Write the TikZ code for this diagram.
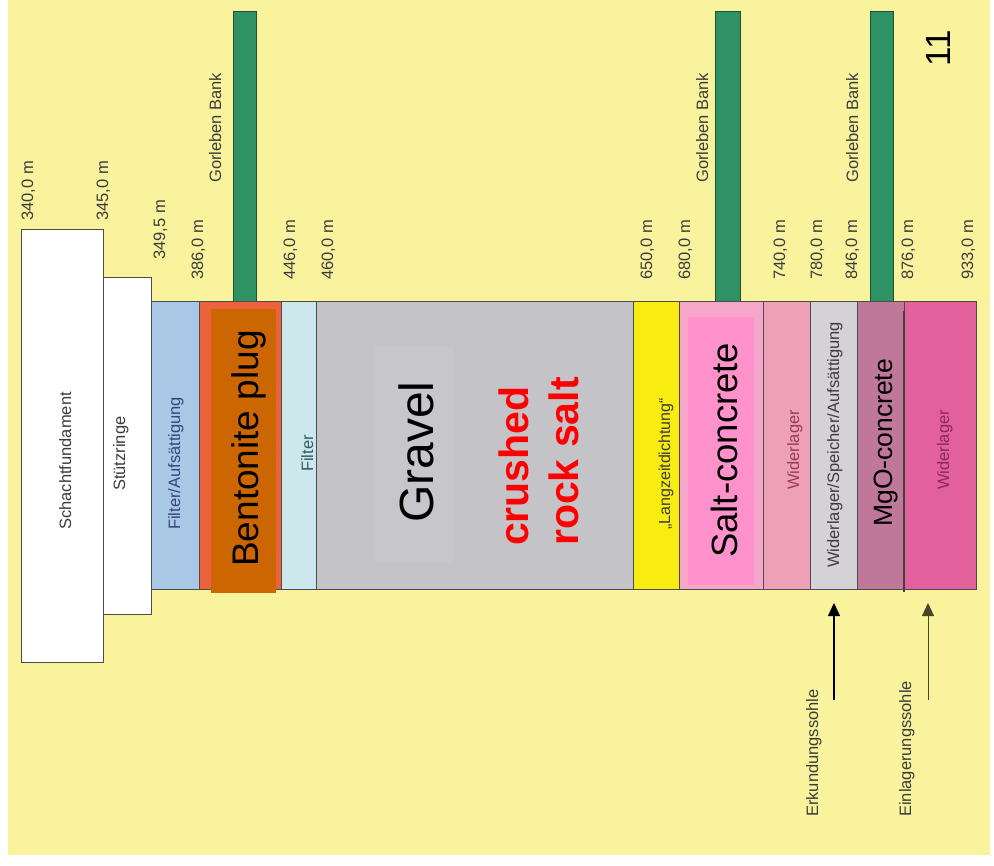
\documentclass[tikz,border=0pt]{standalone}
\usepackage{fontspec}
\setmainfont{Liberation Sans}
\usetikzlibrary{arrows.meta}
\definecolor{bgyellow}{RGB}{250,243,158}
\definecolor{filterblue}{RGB}{168,200,230}
\definecolor{bentred}{RGB}{236,98,60}
\definecolor{bentorange}{RGB}{204,102,0}
\definecolor{filtercyan}{RGB}{204,232,236}
\definecolor{gravelgrey}{RGB}{196,195,200}
\definecolor{gravelinner}{RGB}{199,198,202}
\definecolor{langyellow}{RGB}{248,236,16}
\definecolor{saltouter}{RGB}{246,166,202}
\definecolor{saltinner}{RGB}{255,146,202}
\definecolor{widerA}{RGB}{238,160,184}
\definecolor{wsagrey}{RGB}{212,210,214}
\definecolor{mgocol}{RGB}{192,120,154}
\definecolor{widerB}{RGB}{226,96,156}
\definecolor{bankgreen}{RGB}{46,146,100}
\definecolor{bankedge}{RGB}{30,80,50}
\definecolor{lbltext}{RGB}{60,60,60}
\definecolor{filtxt}{RGB}{50,70,120}
\definecolor{filtxtb}{RGB}{50,90,100}
\definecolor{widtxta}{RGB}{150,60,90}
\definecolor{widtxtb}{RGB}{140,40,90}
\definecolor{olivearrow}{RGB}{70,70,40}
\begin{document}
\begin{tikzpicture}[x=1pt,y=-1pt,
  layer/.style={draw=black!70, line width=0.6pt},
  bank/.style={draw=bankedge, line width=0.6pt, fill=bankgreen},
  small/.style={rotate=90, anchor=base west, inner sep=0pt, text=lbltext, font=\fontsize{16.5}{18}\selectfont},
  big/.style={rotate=90, anchor=base west, inner sep=0pt, text=black},
  arr/.style={-{Triangle[length=13pt,width=12pt]}, line width=1.3pt}
]
% background
\fill[white] (0,0) rectangle (994,866);
\fill[bgyellow] (8,0) rectangle (990,855);

% green banks
\draw[bank] (233,11) rectangle (256,301);
\draw[bank] (715,11) rectangle (740,301);
\draw[bank] (870,11) rectangle (893,301);

% left white boxes
\draw[layer, fill=white] (21,229) rectangle (103,662);
\draw[layer, fill=white] (103,277) rectangle (151,614);

% column layers
\draw[layer, fill=filterblue] (151,301) rectangle (199,589);
\draw[layer, fill=bentred] (199,301) rectangle (281,589);
\fill[bentorange] (211,309) rectangle (276,593);
\draw[layer, fill=filtercyan] (281,301) rectangle (316,589);
\draw[layer, fill=gravelgrey] (316,301) rectangle (633,589);
\fill[gravelinner] (375,347) rectangle (453,563);
\draw[layer, fill=langyellow] (633,301) rectangle (679,589);
\draw[layer, fill=saltouter] (679,301) rectangle (763,589);
\fill[saltinner] (688,317) rectangle (754,585);
\draw[layer, fill=widerA] (763,301) rectangle (810,589);
\draw[layer, fill=wsagrey] (810,301) rectangle (857,589);
\draw[layer, fill=mgocol] (857,301) rectangle (904,589);
\draw[layer, fill=widerB] (904,301) rectangle (976,589);
\draw[black!75, line width=1.2pt] (904,311) -- (904,592);

% depth labels
\node[small] (d340) at (33,221) {340,0 m};
\node[small] (d345) at (108,221) {345,0 m};
\node[small] (d349) at (165,260) {349,5 m};
\node[small] (d386) at (203,280) {386,0 m};
\node[small] (gb1) at (221,183) {Gorleben Bank};
\node[small] (d446) at (295,280) {446,0 m};
\node[small] (d460) at (333,280) {460,0 m};
\node[small] (d650) at (652,280) {650,0 m};
\node[small] (d680) at (690,280) {680,0 m};
\node[small] (gb2) at (708,183) {Gorleben Bank};
\node[small] (d740) at (785,280) {740,0 m};
\node[small] (d780) at (822,280) {780,0 m};
\node[small] (d846) at (857,280) {846,0 m};
\node[small] (gb3) at (858,183) {Gorleben Bank};
\node[small] (d876) at (913,280) {876,0 m};
\node[small] (d933) at (973,280) {933,0 m};
\node[big, font=\fontsize{35}{36}\selectfont] (pg) at (950,67) {11};

% layer labels
\node[small] (schacht) at (71,530) {Schachtfundament};
\node[small] (stuetz) at (125,491) {Stützringe};
\node[small, text=filtxt] (filaufs) at (180,530) {Filter/Aufsättigung};
\node[big, font=\fontsize{37}{38}\selectfont] (bento) at (258,567) {Bentonite plug};
\node[small, text=filtxtb] (filter) at (313,472) {Filter};
\node[big, font=\fontsize{48}{50}\selectfont] (gravel) at (433,523) {Gravel};
\node[big, text=red, font=\fontsize{41}{42}\bfseries\selectfont] (crushed) at (528,546) {crushed};
\node[big, text=red, font=\fontsize{41}{42}\bfseries\selectfont] (rocksalt) at (578,546) {rock salt};
\node[small, font=\fontsize{16}{18}\selectfont] (langz) at (670,530) {„Langzeitdichtung“};
\node[big, font=\fontsize{36.5}{38}\selectfont] (saltc) at (737,558) {Salt-concrete};
\node[small, text=widtxta] (widA) at (799,490) {Widerlager};
\node[small] (wsa) at (839,568) {Widerlager/Speicher/Aufsättigung};
\node[big, font=\fontsize{26.5}{28}\selectfont] (mgo) at (892,527) {MgO-concrete};
\node[small, text=widtxtb] (widB) at (949,490) {Widerlager};

% arrows and level labels
\coordinate (e1) at (834,700);
\coordinate (e2) at (834,603);
\coordinate (f1) at (928,700);
\coordinate (f2) at (928,603);
\draw[arr, black] (e1) -- (e2);
\draw[arr, line width=0.9pt, olivearrow] (f1) -- (f2);
\node[small] (erk) at (818,817) {Erkundungssohle};
\node[small] (einl) at (911,817) {Einlagerungssohle};
\end{tikzpicture}
\end{document}
